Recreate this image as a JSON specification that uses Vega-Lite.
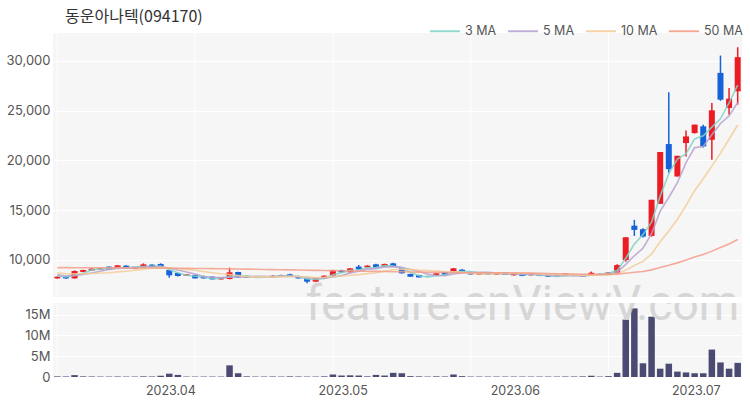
{
  "$schema": "https://vega.github.io/schema/vega-lite/v6.json",
  "padding": {"left": 5, "right": 8, "top": 9, "bottom": 0},
  "background": "white",
  "spacing": 4,
  "title": {"text": "동운아나텍(094170)", "anchor": "start", "font": "Noto Sans CJK KR", "fontSize": 16, "fontWeight": "normal", "color": "#333333", "dx": 60, "offset": -10},
  "config": {
    "view": {"fill": "#f6f6f6", "stroke": null},
    "font": "Inter",
    "axis": {"labelFont": "Inter", "labelFontSize": 13, "labelColor": "#555555", "domain": false, "ticks": false, "gridColor": "#ffffff", "gridWidth": 1, "title": null, "labelOverlap": false, "labelSeparation": 0},
    "legend": {"labelFont": "Inter", "labelFontSize": 12.5, "labelColor": "#555555"}
  },
  "datasets": {
    "w": [{"t": "feature.enViewV.com"}],
    "g": [{"d": "2023-03-14"}, {"d": "2023-04-05"}, {"d": "2023-04-27"}, {"d": "2023-05-23"}, {"d": "2023-06-16"}],
    "p": [
      {"d":"2023-03-14","o":8150,"h":8350,"l":8120,"c":8320,"v":150000,"3 MA":8407,"5 MA":8504,"10 MA":8702,"50 MA":9230},
      {"d":"2023-03-15","o":8320,"h":8350,"l":8100,"c":8150,"v":120000,"3 MA":8290,"5 MA":8394,"10 MA":8617,"50 MA":9228},
      {"d":"2023-03-16","o":8150,"h":8950,"l":8120,"c":8890,"v":450000,"3 MA":8453,"5 MA":8452,"10 MA":8611,"50 MA":9226},
      {"d":"2023-03-17","o":8800,"h":9030,"l":8780,"c":8990,"v":150000,"3 MA":8677,"5 MA":8550,"10 MA":8620,"50 MA":9224},
      {"d":"2023-03-20","o":8930,"h":9160,"l":8900,"c":9130,"v":120000,"3 MA":9003,"5 MA":8696,"10 MA":8648,"50 MA":9222},
      {"d":"2023-03-21","o":9020,"h":9230,"l":9000,"c":9190,"v":100000,"3 MA":9103,"5 MA":8870,"10 MA":8687,"50 MA":9220},
      {"d":"2023-03-22","o":9330,"h":9350,"l":9000,"c":9030,"v":100000,"3 MA":9117,"5 MA":9046,"10 MA":8720,"50 MA":9215},
      {"d":"2023-03-23","o":9190,"h":9500,"l":9150,"c":9460,"v":120000,"3 MA":9227,"5 MA":9160,"10 MA":8806,"50 MA":9210},
      {"d":"2023-03-24","o":9430,"h":9460,"l":9130,"c":9160,"v":100000,"3 MA":9217,"5 MA":9194,"10 MA":8872,"50 MA":9205},
      {"d":"2023-03-27","o":9130,"h":9330,"l":9100,"c":9290,"v":100000,"3 MA":9303,"5 MA":9226,"10 MA":8961,"50 MA":9200},
      {"d":"2023-03-28","o":9260,"h":9660,"l":9230,"c":9560,"v":150000,"3 MA":9337,"5 MA":9300,"10 MA":9085,"50 MA":9195},
      {"d":"2023-03-29","o":9530,"h":9560,"l":9230,"c":9260,"v":120000,"3 MA":9370,"5 MA":9346,"10 MA":9196,"50 MA":9190},
      {"d":"2023-03-30","o":9600,"h":9660,"l":9300,"c":9330,"v":300000,"3 MA":9383,"5 MA":9320,"10 MA":9240,"50 MA":9185},
      {"d":"2023-03-31","o":8990,"h":9000,"l":8220,"c":8460,"v":800000,"3 MA":9017,"5 MA":9180,"10 MA":9187,"50 MA":9178},
      {"d":"2023-04-03","o":8690,"h":8720,"l":8350,"c":8390,"v":500000,"3 MA":8727,"5 MA":9000,"10 MA":9113,"50 MA":9170},
      {"d":"2023-04-04","o":8420,"h":8590,"l":8390,"c":8560,"v":100000,"3 MA":8470,"5 MA":8800,"10 MA":9050,"50 MA":9160},
      {"d":"2023-04-05","o":8490,"h":8520,"l":8130,"c":8150,"v":100000,"3 MA":8367,"5 MA":8578,"10 MA":8962,"50 MA":9150},
      {"d":"2023-04-06","o":8390,"h":8420,"l":8130,"c":8150,"v":100000,"3 MA":8287,"5 MA":8342,"10 MA":8831,"50 MA":9140},
      {"d":"2023-04-07","o":8320,"h":8350,"l":8030,"c":8050,"v":100000,"3 MA":8117,"5 MA":8260,"10 MA":8720,"50 MA":9130},
      {"d":"2023-04-10","o":8050,"h":8280,"l":8020,"c":8250,"v":100000,"3 MA":8150,"5 MA":8232,"10 MA":8616,"50 MA":9120},
      {"d":"2023-04-11","o":8090,"h":9230,"l":8050,"c":8760,"v":2800000,"3 MA":8353,"5 MA":8272,"10 MA":8536,"50 MA":9110},
      {"d":"2023-04-12","o":8790,"h":8820,"l":8220,"c":8250,"v":900000,"3 MA":8420,"5 MA":8292,"10 MA":8435,"50 MA":9095},
      {"d":"2023-04-13","o":8390,"h":8420,"l":8200,"c":8220,"v":150000,"3 MA":8410,"5 MA":8306,"10 MA":8324,"50 MA":9080},
      {"d":"2023-04-14","o":8350,"h":8380,"l":8260,"c":8290,"v":100000,"3 MA":8253,"5 MA":8354,"10 MA":8307,"50 MA":9065},
      {"d":"2023-04-17","o":8290,"h":8360,"l":8250,"c":8320,"v":100000,"3 MA":8277,"5 MA":8368,"10 MA":8300,"50 MA":9050},
      {"d":"2023-04-18","o":8250,"h":8450,"l":8230,"c":8420,"v":120000,"3 MA":8343,"5 MA":8300,"10 MA":8286,"50 MA":9035},
      {"d":"2023-04-19","o":8350,"h":8520,"l":8330,"c":8490,"v":100000,"3 MA":8410,"5 MA":8348,"10 MA":8320,"50 MA":9020},
      {"d":"2023-04-20","o":8560,"h":8620,"l":8300,"c":8320,"v":150000,"3 MA":8410,"5 MA":8368,"10 MA":8337,"50 MA":9005},
      {"d":"2023-04-21","o":8390,"h":8420,"l":8130,"c":8150,"v":120000,"3 MA":8320,"5 MA":8340,"10 MA":8347,"50 MA":8990},
      {"d":"2023-04-24","o":8150,"h":8180,"l":7650,"c":7820,"v":100000,"3 MA":8097,"5 MA":8240,"10 MA":8304,"50 MA":8975},
      {"d":"2023-04-25","o":7820,"h":8180,"l":7800,"c":8150,"v":100000,"3 MA":8040,"5 MA":8186,"10 MA":8243,"50 MA":8960},
      {"d":"2023-04-26","o":8150,"h":8450,"l":8120,"c":8420,"v":150000,"3 MA":8130,"5 MA":8172,"10 MA":8260,"50 MA":8945},
      {"d":"2023-04-27","o":8420,"h":9030,"l":8400,"c":8990,"v":600000,"3 MA":8520,"5 MA":8306,"10 MA":8337,"50 MA":8930},
      {"d":"2023-04-28","o":8990,"h":9020,"l":8730,"c":8760,"v":350000,"3 MA":8723,"5 MA":8428,"10 MA":8384,"50 MA":8915},
      {"d":"2023-05-02","o":8760,"h":9200,"l":8740,"c":9160,"v":400000,"3 MA":8970,"5 MA":8696,"10 MA":8468,"50 MA":8900},
      {"d":"2023-05-03","o":9330,"h":9500,"l":9030,"c":9060,"v":350000,"3 MA":8993,"5 MA":8878,"10 MA":8532,"50 MA":8885},
      {"d":"2023-05-04","o":9260,"h":9460,"l":9230,"c":9430,"v":150000,"3 MA":9217,"5 MA":9080,"10 MA":8626,"50 MA":8870},
      {"d":"2023-05-08","o":9560,"h":9630,"l":9230,"c":9260,"v":500000,"3 MA":9250,"5 MA":9134,"10 MA":8720,"50 MA":8855},
      {"d":"2023-05-09","o":9330,"h":9630,"l":9300,"c":9600,"v":350000,"3 MA":9430,"5 MA":9302,"10 MA":8865,"50 MA":8840},
      {"d":"2023-05-10","o":9660,"h":9730,"l":9300,"c":9330,"v":1000000,"3 MA":9397,"5 MA":9336,"10 MA":9016,"50 MA":8825},
      {"d":"2023-05-11","o":9160,"h":9200,"l":8630,"c":8660,"v":900000,"3 MA":9197,"5 MA":9256,"10 MA":9067,"50 MA":8810},
      {"d":"2023-05-12","o":8590,"h":8620,"l":8300,"c":8320,"v":200000,"3 MA":8770,"5 MA":9034,"10 MA":9057,"50 MA":8795},
      {"d":"2023-05-15","o":8490,"h":8520,"l":8230,"c":8250,"v":150000,"3 MA":8410,"5 MA":8832,"10 MA":8983,"50 MA":8780},
      {"d":"2023-05-16","o":8390,"h":8420,"l":8330,"c":8350,"v":100000,"3 MA":8307,"5 MA":8582,"10 MA":8942,"50 MA":8765},
      {"d":"2023-05-17","o":8460,"h":8690,"l":8440,"c":8660,"v":150000,"3 MA":8420,"5 MA":8448,"10 MA":8892,"50 MA":8750},
      {"d":"2023-05-18","o":8790,"h":8820,"l":8500,"c":8520,"v":120000,"3 MA":8510,"5 MA":8420,"10 MA":8838,"50 MA":8740},
      {"d":"2023-05-19","o":8830,"h":9200,"l":8800,"c":9160,"v":600000,"3 MA":8780,"5 MA":8588,"10 MA":8811,"50 MA":8730},
      {"d":"2023-05-22","o":9030,"h":9060,"l":8800,"c":8830,"v":200000,"3 MA":8837,"5 MA":8704,"10 MA":8768,"50 MA":8720},
      {"d":"2023-05-23","o":8760,"h":8790,"l":8530,"c":8550,"v":100000,"3 MA":8847,"5 MA":8744,"10 MA":8663,"50 MA":8710},
      {"d":"2023-05-24","o":8520,"h":8750,"l":8500,"c":8720,"v":100000,"3 MA":8700,"5 MA":8756,"10 MA":8602,"50 MA":8699},
      {"d":"2023-05-25","o":8760,"h":8790,"l":8500,"c":8520,"v":100000,"3 MA":8597,"5 MA":8756,"10 MA":8588,"50 MA":8703},
      {"d":"2023-05-26","o":8520,"h":8790,"l":8500,"c":8760,"v":100000,"3 MA":8667,"5 MA":8676,"10 MA":8632,"50 MA":8715},
      {"d":"2023-05-30","o":8760,"h":8790,"l":8480,"c":8500,"v":100000,"3 MA":8593,"5 MA":8610,"10 MA":8657,"50 MA":8707},
      {"d":"2023-05-31","o":8460,"h":8680,"l":8440,"c":8650,"v":100000,"3 MA":8637,"5 MA":8630,"10 MA":8687,"50 MA":8700},
      {"d":"2023-06-01","o":8650,"h":8680,"l":8370,"c":8390,"v":100000,"3 MA":8513,"5 MA":8564,"10 MA":8660,"50 MA":8686},
      {"d":"2023-06-02","o":8460,"h":8680,"l":8440,"c":8650,"v":100000,"3 MA":8563,"5 MA":8590,"10 MA":8673,"50 MA":8675},
      {"d":"2023-06-05","o":8560,"h":8590,"l":8370,"c":8390,"v":100000,"3 MA":8477,"5 MA":8516,"10 MA":8596,"50 MA":8662},
      {"d":"2023-06-07","o":8550,"h":8580,"l":8300,"c":8320,"v":100000,"3 MA":8453,"5 MA":8480,"10 MA":8545,"50 MA":8639},
      {"d":"2023-06-08","o":8520,"h":8550,"l":8300,"c":8320,"v":100000,"3 MA":8343,"5 MA":8414,"10 MA":8522,"50 MA":8622},
      {"d":"2023-06-09","o":8390,"h":8680,"l":8370,"c":8650,"v":150000,"3 MA":8430,"5 MA":8466,"10 MA":8515,"50 MA":8609},
      {"d":"2023-06-12","o":8550,"h":8580,"l":8370,"c":8390,"v":120000,"3 MA":8453,"5 MA":8414,"10 MA":8502,"50 MA":8586},
      {"d":"2023-06-13","o":8550,"h":8580,"l":8300,"c":8320,"v":150000,"3 MA":8453,"5 MA":8400,"10 MA":8458,"50 MA":8567},
      {"d":"2023-06-14","o":8520,"h":8830,"l":8500,"c":8720,"v":300000,"3 MA":8477,"5 MA":8480,"10 MA":8480,"50 MA":8555},
      {"d":"2023-06-15","o":8600,"h":8650,"l":8520,"c":8550,"v":100000,"3 MA":8530,"5 MA":8526,"10 MA":8470,"50 MA":8557},
      {"d":"2023-06-16","o":8490,"h":8790,"l":8470,"c":8760,"v":200000,"3 MA":8677,"5 MA":8548,"10 MA":8507,"50 MA":8564},
      {"d":"2023-06-19","o":8660,"h":9560,"l":8640,"c":9490,"v":1000000,"3 MA":8933,"5 MA":8768,"10 MA":8591,"50 MA":8583},
      {"d":"2023-06-20","o":9990,"h":12300,"l":9830,"c":12280,"v":13800000,"3 MA":10177,"5 MA":9560,"10 MA":8980,"50 MA":8666},
      {"d":"2023-06-21","o":13450,"h":14030,"l":12420,"c":13020,"v":16500000,"3 MA":11597,"5 MA":10420,"10 MA":9450,"50 MA":8763},
      {"d":"2023-06-22","o":13090,"h":13200,"l":12250,"c":12350,"v":3300000,"3 MA":12550,"5 MA":11180,"10 MA":9853,"50 MA":8849},
      {"d":"2023-06-23","o":12420,"h":16050,"l":12350,"c":16050,"v":14500000,"3 MA":13807,"5 MA":12638,"10 MA":10593,"50 MA":9005},
      {"d":"2023-06-26","o":15640,"h":20850,"l":15640,"c":20850,"v":2000000,"3 MA":16417,"5 MA":14910,"10 MA":11839,"50 MA":9247},
      {"d":"2023-06-27","o":21650,"h":26850,"l":18730,"c":19130,"v":3200000,"3 MA":18677,"5 MA":16280,"10 MA":12920,"50 MA":9465},
      {"d":"2023-06-28","o":18390,"h":20470,"l":18390,"c":20470,"v":1300000,"3 MA":20150,"5 MA":17770,"10 MA":14095,"50 MA":9710},
      {"d":"2023-06-29","o":21750,"h":23020,"l":20400,"c":22420,"v":1100000,"3 MA":20673,"5 MA":19784,"10 MA":15482,"50 MA":9993},
      {"d":"2023-06-30","o":22750,"h":23600,"l":22700,"c":23600,"v":900000,"3 MA":22163,"5 MA":21294,"10 MA":16966,"50 MA":10299},
      {"d":"2023-07-03","o":23430,"h":23600,"l":21300,"c":21410,"v":900000,"3 MA":22477,"5 MA":21406,"10 MA":18158,"50 MA":10559},
      {"d":"2023-07-04","o":22080,"h":25780,"l":20070,"c":25040,"v":6600000,"3 MA":23350,"5 MA":22588,"10 MA":19434,"50 MA":10890},
      {"d":"2023-07-05","o":28800,"h":30540,"l":26000,"c":26110,"v":3500000,"3 MA":24187,"5 MA":23716,"10 MA":20743,"50 MA":11246},
      {"d":"2023-07-06","o":25270,"h":27290,"l":24600,"c":26210,"v":2000000,"3 MA":25787,"5 MA":24474,"10 MA":22129,"50 MA":11607},
      {"d":"2023-07-07","o":26950,"h":31380,"l":25610,"c":30380,"v":3400000,"3 MA":27567,"5 MA":25830,"10 MA":23562,"50 MA":12058}
    ]
  },
  "vconcat": [
    {
      "width": 689,
      "height": 264,
      "data": {"name": "p"},
      "layer": [
        {
          "data": {"name": "g"},
          "mark": {"type": "rule", "color": "#ffffff", "strokeWidth": 1},
          "encoding": {"x": {"field": "d", "type": "ordinal", "scale": {"paddingInner": 0, "paddingOuter": 0}, "axis": null}}
        },
        {
          "data": {"name": "w"},
          "mark": {"type": "text", "fontSize": 46, "font": "Roboto", "color": "#cfcfcf", "opacity": 0.8, "align": "center", "baseline": "alphabetic", "clip": true},
          "encoding": {"text": {"field": "t"}, "x": {"datum": "2023-06-01", "type": "ordinal", "axis": null}, "y": {"datum": 4170, "type": "quantitative",
                  "axis": {"values": [10000, 15000, 20000, 25000, 30000], "format": ",.0f", "grid": true, "labelPadding": 3, "minExtent": 48, "maxExtent": 48}}}
        },
        {
          "mark": {"type": "rule", "strokeWidth": 1.5},
          "encoding": {
            "x": {"field": "d", "type": "ordinal", "axis": null},
            "y": {"field": "l", "type": "quantitative", "scale": {"domain": [6280, 32810], "nice": false, "zero": false},
                  "axis": {"values": [10000, 15000, 20000, 25000, 30000], "format": ",.0f", "grid": true, "labelPadding": 3, "minExtent": 48, "maxExtent": 48}},
            "y2": {"field": "h"},
            "color": {"condition": {"test": "datum.c >= datum.o", "value": "#ec1c24"}, "value": "#1662d8"}
          }
        },
        {
          "mark": {"type": "bar", "size": 6},
          "encoding": {
            "x": {"field": "d", "type": "ordinal", "axis": null},
            "y": {"field": "o", "type": "quantitative"},
            "y2": {"field": "c"},
            "color": {"condition": {"test": "datum.c >= datum.o", "value": "#ec1c24"}, "value": "#1662d8"}
          }
        },
        {
          "transform": [{"fold": ["3 MA", "5 MA", "10 MA", "50 MA"], "as": ["key", "val"]}],
          "mark": {"type": "line", "strokeWidth": 1.6, "opacity": 0.85},
          "encoding": {
            "x": {"field": "d", "type": "ordinal", "axis": null},
            "y": {"field": "val", "type": "quantitative"},
            "color": {"field": "key", "type": "nominal",
              "scale": {"domain": ["3 MA", "5 MA", "10 MA", "50 MA"], "range": ["#7fd3c7", "#b7a1cf", "#f3cd98", "#f59d88"]},
              "legend": {"orient": "none", "legendX": 376, "legendY": -18, "direction": "horizontal", "title": null,
                         "symbolType": "stroke", "symbolSize": 900, "symbolStrokeWidth": 2, "labelOffset": 4, "columnPadding": 7, "padding": 0}}
          }
        }
      ]
    },
    {
      "width": 689,
      "height": 74,
      "data": {"name": "p"},
      "encoding": {
        "x": {"field": "d", "type": "ordinal", "scale": {"paddingInner": 0, "paddingOuter": 0},
              "axis": {"values": ["2023-04-03", "2023-05-02", "2023-06-01", "2023-07-03"], "labelExpr": "slice(datum.value,0,4)+'.'+slice(datum.value,5,7)", "bandPosition": 0, "labelAlign": "center", "labelOffset": -7, "labelAngle": 0, "labelPadding": 7, "labelFontSize": 12.5, "grid": false}}
      },
      "layer": [
        {
          "data": {"name": "g"},
          "mark": {"type": "rule", "color": "#ffffff", "strokeWidth": 1}
        },
        {
          "mark": {"type": "bar", "size": 6.5, "color": "#4a4a72"},
          "encoding": {
            "y": {"field": "v", "type": "quantitative", "scale": {"domain": [0, 17800000], "nice": false},
                  "axis": {"values": [0, 5000000, 10000000, 15000000], "labelExpr": "datum.value == 0 ? '0' : (datum.value / 1000000) + 'M'", "grid": true, "labelPadding": 3, "minExtent": 48, "maxExtent": 48}}
          }
        },
        {
          "data": {"name": "w"},
          "mark": {"type": "text", "fontSize": 46, "font": "Roboto", "color": "#cfcfcf", "opacity": 0.8, "align": "center", "baseline": "alphabetic", "clip": true},
          "encoding": {"text": {"field": "t"}, "x": {"datum": "2023-06-01", "type": "ordinal"}, "y": {"datum": 13700000, "type": "quantitative",
                  "axis": {"values": [0, 5000000, 10000000, 15000000], "labelExpr": "datum.value == 0 ? '0' : (datum.value / 1000000) + 'M'", "grid": true, "labelPadding": 3, "minExtent": 48, "maxExtent": 48}}}
        }
      ]
    }
  ]
}
